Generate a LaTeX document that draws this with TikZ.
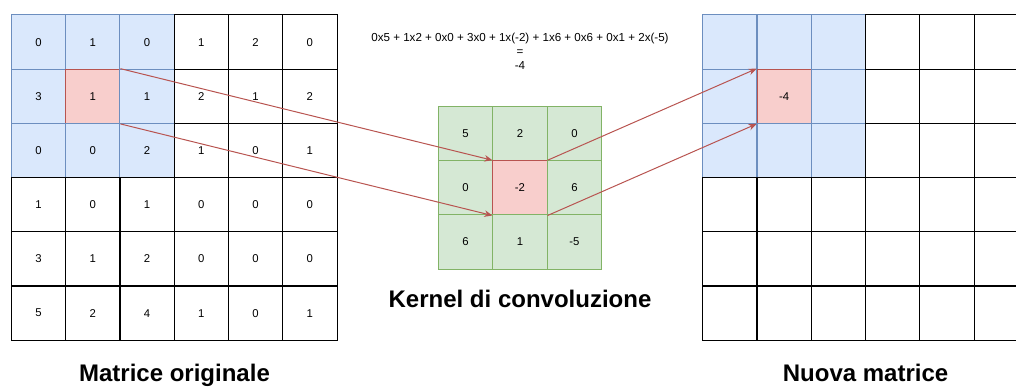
\documentclass[tikz,border=0pt]{standalone}
\usepackage{fontspec}
\setmainfont{Liberation Sans}
\usetikzlibrary{arrows.meta}

\definecolor{bluefill}{HTML}{DAE8FC}
\definecolor{bluedraw}{HTML}{6C8EBF}
\definecolor{redfill}{HTML}{F8CECC}
\definecolor{reddraw}{HTML}{B85450}
\definecolor{greenfill}{HTML}{D5E8D4}
\definecolor{greendraw}{HTML}{82B366}

\tikzset{
  cell/.style={draw=black, line width=0.75pt, minimum width=40.7pt, minimum height=40.7pt,
    inner sep=0pt, font=\fontsize{8.5}{10}\selectfont},
  bluecell/.style={cell, fill=bluefill, draw=bluedraw},
  redcell/.style={cell, fill=redfill, draw=reddraw},
  greencell/.style={cell, fill=greenfill, draw=greendraw},
  link/.style={draw=reddraw, line width=0.75pt, -{Stealth[length=6pt,width=5pt]}},
  caption/.style={font=\bfseries\fontsize{18}{20}\selectfont, anchor=base}
}

\begin{document}
\begin{tikzpicture}[x=0.75pt,y=-0.75pt]
    \useasboundingbox (0,0) rectangle (1016,387);

    % original matrix, 3x3 window in blue
    \foreach \row [count=\i from 0] in {{0,1,0,1,2,0},{3,1,1,2,1,2},{0,0,2,1,0,1},
                                         {1,0,1,0,0,0},{3,1,2,0,0,0},{5,2,4,1,0,1}} {
      \foreach \v [count=\j from 0] in \row {
        \def\kind{cell}
        \ifnum\i<3 \ifnum\j<3 \def\kind{bluecell}\fi\fi
        \ifnum\i=1 \ifnum\j=1 \def\kind{redcell}\fi\fi
        \node[\kind] (m-\i-\j) at ({11.5+54.25*(\j+0.5)},{15+54.2*(\i+0.5)}) {\v};
      }
    }
    \node[caption] (morig) at (174.5,381.5) {Matrice originale};

    % kernel
    \foreach \row [count=\i from 0] in {{5,2,0},{0,-2,6},{6,1,-5}} {
      \foreach \v [count=\j from 0] in \row {
        \def\kind{greencell}
        \ifnum\i=1 \ifnum\j=1 \def\kind{redcell}\fi\fi
        \node[\kind] (k-\i-\j) at ({438.3+54.45*(\j+0.5)},{106.7+54.1*(\i+0.5)}) {\v};
      }
    }
    \node[caption] (kcap) at (520,307.5) {Kernel di convoluzione};

    % the sum for the highlighted cell
    \node[align=center, font=\fontsize{8.7}{10.6}\selectfont] (sum) at (520,51)
      {0x5 + 1x2 + 0x0 + 3x0 + 1x(-2) + 1x6 + 0x6 + 0x1 + 2x(-5)\\=\\-4};

    % new matrix (last column runs off the edge)
    \foreach \i in {0,...,5} {
      \foreach \j in {0,...,5} {
        \def\kind{cell}
        \ifnum\i<3 \ifnum\j<3 \def\kind{bluecell}\fi\fi
        \ifnum\i=1 \ifnum\j=1 \def\kind{redcell}\fi\fi
        \node[\kind] (n-\i-\j) at ({702.7+54.3*(\j+0.5)},{15+54.2*(\i+0.5)}) {};
      }
    }
    \node[font=\fontsize{8.5}{10}\selectfont] at (n-1-1) {-4};
    \node[caption] (ncap) at (865.6,381.5) {Nuova matrice};

    % arrows through the kernel
    \draw[link] (m-1-1.north east) -- (k-1-1.north west);
    \draw[link] (m-1-1.south east) -- (k-1-1.south west);
    \draw[link] (k-1-1.north east) -- (n-1-1.north west);
    \draw[link] (k-1-1.south east) -- (n-1-1.south west);
\end{tikzpicture}
\end{document}
